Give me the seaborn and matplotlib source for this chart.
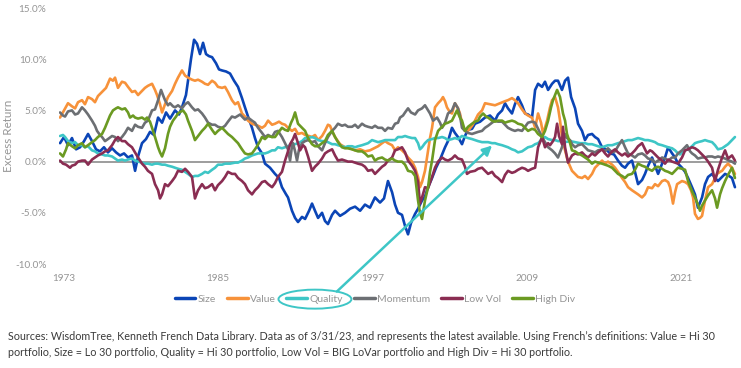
import numpy as np
import pandas as pd
import matplotlib
matplotlib.use("Agg")
import matplotlib.pyplot as plt
from matplotlib.patches import Ellipse
from matplotlib.lines import Line2D
import seaborn as sns

# ---------------- data (excess return, %) ----------------
series_names = ["Size", "Value", "Quality", "Momentum", "Low Vol", "High Div"]
colors = ["#0b45b6", "#f7923a", "#3ec6c6", "#6c6f73", "#8a2d52", "#6b9a22"]

size_x = [1972.69, 1973.00, 1973.31, 1973.62, 1973.94, 1974.25, 1974.56, 1974.87, 1975.18, 1975.49,
          1975.80, 1976.11, 1976.42, 1976.74, 1977.05, 1977.36, 1977.67, 1977.98, 1978.29, 1978.53,
          1978.76, 1979.07, 1979.38, 1979.69, 1980.00, 1980.32, 1980.63, 1980.94, 1981.25, 1981.64,
          1981.95, 1982.18, 1982.49, 1982.65, 1982.88, 1983.12, 1983.35, 1983.58, 1983.82, 1984.05,
          1984.28, 1984.52, 1984.83, 1985.06, 1985.30, 1985.61, 1985.92, 1986.23, 1986.54, 1986.85,
          1987.08, 1987.32, 1987.63, 1987.86, 1988.10, 1988.41, 1988.64, 1989.03, 1989.42, 1989.73,
          1989.96, 1990.28, 1990.43, 1990.74, 1990.98, 1991.21, 1991.52, 1991.76, 1992.07, 1992.30,
          1992.53, 1992.77, 1993.08, 1993.31, 1993.54, 1993.86, 1994.09, 1994.48, 1994.87, 1995.26,
          1995.65, 1996.04, 1996.42, 1996.81, 1997.20, 1997.59, 1997.90, 1998.21, 1998.53, 1998.76,
          1998.99, 1999.30, 1999.54, 1999.77, 2000.00, 2000.32, 2000.55, 2000.86, 2001.09, 2001.33,
          2001.64, 2001.95, 2002.26, 2002.65, 2002.88, 2003.19, 2003.42, 2003.66, 2003.97, 2004.20,
          2004.44, 2004.75, 2004.98, 2005.38, 2005.76, 2006.15, 2006.54, 2006.77, 2007.09, 2007.32,
          2007.55, 2007.86, 2008.09, 2008.33, 2008.64, 2008.88, 2009.11, 2009.42, 2009.66, 2009.89,
          2010.20, 2010.43, 2010.67, 2010.98, 2011.21, 2011.44, 2011.75, 2011.99, 2012.22, 2012.46,
          2012.77, 2013.00, 2013.31, 2013.54, 2013.78, 2014.09, 2014.32, 2014.56, 2014.87, 2015.18,
          2015.49, 2015.80, 2016.11, 2016.42, 2016.66, 2016.89, 2017.20, 2017.43, 2017.67, 2017.98,
          2018.21, 2018.45, 2018.76, 2018.99, 2019.23, 2019.54, 2019.77, 2020.01, 2020.32, 2020.55,
          2020.78, 2021.09, 2021.33, 2021.56, 2021.87, 2022.10, 2022.33, 2022.65, 2022.88, 2023.12,
          2023.43, 2023.66, 2023.89, 2024.21, 2024.44, 2024.75, 2024.98, 2025.21]
size_y = [1.8, 2.4, 1.6, 2.3, 1.2, 1.4, 2.0, 2.7, 2.0, 1.2,
          1.0, 1.4, 0.9, 1.3, 0.9, 0.6, 0.8, 0.4, 0.6, -0.9,
          0.5, 1.8, 2.2, 2.9, 2.6, 4.3, 3.8, 4.8, 4.2, 5.0,
          4.6, 5.3, 6.5, 7.9, 10.0, 11.9, 11.5, 10.5, 11.6, 10.5,
          10.3, 10.2, 9.6, 9.0, 8.9, 8.8, 8.6, 7.9, 7.3, 6.2,
          5.3, 4.4, 3.3, 2.3, 1.4, 0.8, -0.2, -0.6, -1.2, -1.6,
          -2.5, -3.2, -3.5, -4.8, -5.5, -5.9, -5.4, -5.6, -4.8, -4.1,
          -4.8, -5.5, -5.0, -5.8, -6.1, -5.2, -4.8, -5.3, -5.0, -4.6,
          -4.4, -4.8, -4.2, -4.5, -3.5, -4.0, -3.6, -1.9, -3.0, -4.2,
          -5.0, -5.2, -6.3, -7.1, -6.0, -5.1, -4.6, -3.8, -3.4, -2.5,
          -1.6, -0.6, 0.2, 1.4, 2.0, 3.3, 2.8, 2.4, 1.7, 2.5,
          3.1, 3.2, 3.7, 3.9, 4.3, 4.5, 4.0, 4.6, 5.0, 5.7,
          5.2, 4.7, 5.6, 6.3, 5.5, 4.7, 4.6, 4.3, 7.0, 7.6,
          7.3, 7.8, 7.0, 7.6, 7.9, 7.9, 7.0, 7.9, 8.2, 6.3,
          5.2, 3.7, 3.0, 2.1, 2.6, 2.7, 2.4, 2.2, 1.4, 1.2,
          0.8, 0.7, 0.1, -0.4, -0.6, -0.2, 0.1, -1.0, -2.2, -1.8,
          -1.2, -0.4, 0.4, -0.4, -1.2, -0.2, 0.4, 1.4, 0.8, 0.4,
          -0.2, -0.6, -1.0, -1.6, -2.5, -3.2, -4.5, -3.5, -2.2, -1.5,
          -1.2, -1.6, -1.9, -1.5, -1.2, -1.4, -1.6, -2.5]

value_x = [1972.69, 1973.00, 1973.31, 1973.62, 1973.86, 1974.09, 1974.40, 1974.63, 1974.87, 1975.18,
           1975.41, 1975.64, 1975.96, 1976.27, 1976.58, 1976.81, 1976.97, 1977.20, 1977.51, 1977.75,
           1977.98, 1978.29, 1978.53, 1978.76, 1979.07, 1979.30, 1979.53, 1979.85, 1980.08, 1980.24,
           1980.47, 1980.63, 1980.86, 1981.09, 1981.41, 1981.64, 1981.87, 1982.18, 1982.42, 1982.65,
           1982.96, 1983.19, 1983.43, 1983.74, 1983.97, 1984.21, 1984.52, 1984.75, 1984.98, 1985.30,
           1985.53, 1985.76, 1986.07, 1986.31, 1986.54, 1986.85, 1987.08, 1987.32, 1987.63, 1988.10,
           1988.41, 1988.64, 1988.88, 1989.19, 1989.42, 1989.73, 1989.96, 1990.20, 1990.43, 1990.74,
           1990.98, 1991.21, 1991.52, 1991.76, 1992.07, 1992.30, 1992.53, 1992.77, 1993.08, 1993.31,
           1993.54, 1993.70, 1993.93, 1994.09, 1994.48, 1994.87, 1995.26, 1995.65, 1996.04, 1996.42,
           1996.81, 1997.12, 1997.44, 1997.75, 1997.98, 1998.21, 1998.53, 1998.76, 1998.99, 1999.30,
           1999.54, 1999.77, 2000.08, 2000.32, 2000.55, 2000.70, 2000.86, 2001.09, 2001.33, 2001.48,
           2001.64, 2001.87, 2002.11, 2002.34, 2002.49, 2002.65, 2002.80, 2003.04, 2003.19, 2003.42,
           2003.66, 2003.81, 2004.05, 2004.20, 2004.44, 2004.75, 2004.98, 2005.22, 2005.53, 2005.76,
           2006.15, 2006.54, 2006.93, 2007.32, 2007.55, 2007.86, 2008.09, 2008.33, 2008.64, 2008.88,
           2009.11, 2009.42, 2009.66, 2009.89, 2010.12, 2010.28, 2010.59, 2010.82, 2010.98, 2011.21,
           2011.44, 2011.60, 2011.75, 2011.99, 2012.22, 2012.53, 2012.77, 2013.00, 2013.31, 2013.54,
           2013.78, 2014.09, 2014.32, 2014.56, 2014.87, 2015.10, 2015.33, 2015.65, 2015.88, 2016.11,
           2016.42, 2016.66, 2016.89, 2017.20, 2017.43, 2017.67, 2017.98, 2018.21, 2018.45, 2018.76,
           2018.99, 2019.23, 2019.54, 2019.77, 2020.01, 2020.16, 2020.39, 2020.55, 2020.71, 2021.09,
           2021.33, 2021.56, 2021.79, 2021.95, 2022.10, 2022.33, 2022.49, 2022.65, 2022.88, 2023.12,
           2023.43, 2023.66, 2023.82, 2024.05, 2024.21, 2024.44, 2024.67, 2024.98, 2025.21]
value_y = [4.3, 5.0, 5.7, 5.4, 5.2, 5.8, 6.0, 5.6, 6.3, 6.1,
           5.8, 6.4, 6.8, 7.2, 8.1, 7.9, 8.2, 7.2, 7.8, 7.7,
           7.3, 6.8, 6.9, 6.5, 6.9, 7.2, 7.4, 7.6, 7.0, 6.5,
           5.6, 4.8, 5.6, 6.3, 6.9, 7.6, 8.2, 8.9, 8.4, 8.2,
           8.0, 7.9, 8.0, 7.8, 7.6, 7.5, 7.9, 7.7, 7.3, 7.2,
           7.3, 6.8, 6.0, 5.6, 5.8, 4.7, 4.4, 4.0, 3.7, 3.5,
           3.3, 3.5, 4.0, 3.6, 3.7, 3.9, 3.7, 3.6, 3.3, 3.0,
           3.2, 2.7, 2.8, 2.6, 2.5, 2.4, 2.6, 2.1, 2.5, 3.0,
           3.6, 3.5, 2.8, 2.4, 1.7, 1.4, 1.3, 1.1, 1.2, 1.0,
           1.1, 1.3, 1.5, 1.8, 2.0, 1.8, 1.6, 1.1, 1.4, 1.1,
           0.8, 0.4, 0.0, -0.6, -1.5, -2.5, -2.0, -0.9, 1.1, 2.3,
           3.3, 5.3, 5.7, 6.0, 6.3, 5.9, 5.3, 4.8, 4.7, 5.7,
           5.2, 4.7, 3.3, 3.0, 3.0, 3.5, 4.0, 4.6, 5.0, 5.7,
           5.6, 5.5, 5.7, 5.9, 6.0, 6.2, 6.0, 5.7, 5.1, 4.7,
           4.5, 4.3, 3.3, 4.7, 3.8, 2.7, 4.0, 5.3, 6.0, 6.3,
           5.3, 4.0, 2.4, 1.1, 0.0, -0.9, -1.2, -1.5, -1.6, -1.4,
           -1.7, -1.2, -0.6, -0.3, 0.1, -0.2, 0.0, -0.3, -0.6, -1.0,
           -1.6, -2.0, -2.5, -2.8, -3.0, -3.2, -3.5, -3.2, -2.5, -2.6,
           -2.2, -2.4, -1.9, -1.8, -2.0, -2.5, -4.1, -3.0, -2.2, -1.9,
           -2.0, -2.2, -2.8, -3.5, -5.1, -5.6, -5.5, -5.3, -3.8, -2.5,
           -2.2, -1.6, -1.2, -1.0, -0.9, -0.5, -0.2, -0.6, -1.2]

quality_x = [1972.69, 1972.92, 1973.08, 1973.31, 1973.62, 1973.86, 1974.09, 1974.40, 1974.63, 1974.87,
             1975.18, 1975.41, 1975.64, 1975.96, 1976.19, 1976.42, 1976.74, 1976.97, 1977.20, 1977.51,
             1977.75, 1977.98, 1978.29, 1978.53, 1978.76, 1979.07, 1979.30, 1979.53, 1979.85, 1980.08,
             1980.32, 1980.63, 1980.86, 1981.09, 1981.41, 1981.64, 1981.87, 1982.18, 1982.42, 1982.65,
             1982.96, 1983.19, 1983.43, 1983.74, 1983.97, 1984.21, 1984.52, 1984.75, 1984.98, 1985.30,
             1985.53, 1985.92, 1986.31, 1986.54, 1986.85, 1987.08, 1987.32, 1987.63, 1987.86, 1988.10,
             1988.41, 1988.64, 1988.88, 1989.19, 1989.42, 1989.65, 1989.96, 1990.20, 1990.43, 1990.74,
             1990.98, 1991.21, 1991.52, 1991.76, 1991.99, 1992.30, 1992.53, 1992.77, 1993.08, 1993.31,
             1993.54, 1993.86, 1994.09, 1994.32, 1994.63, 1994.87, 1995.10, 1995.41, 1995.65, 1995.88,
             1996.19, 1996.42, 1996.66, 1996.97, 1997.20, 1997.44, 1997.75, 1997.98, 1998.37, 1998.76,
             1998.99, 1999.30, 1999.54, 1999.77, 2000.08, 2000.32, 2000.55, 2000.70, 2000.86, 2001.09,
             2001.33, 2001.64, 2001.87, 2002.11, 2002.42, 2002.65, 2002.88, 2003.19, 2003.42, 2003.66,
             2003.97, 2004.20, 2004.44, 2004.75, 2004.98, 2005.22, 2005.53, 2005.76, 2006.00, 2006.31,
             2006.54, 2006.77, 2007.09, 2007.32, 2007.55, 2007.86, 2008.09, 2008.33, 2008.64, 2008.88,
             2009.11, 2009.42, 2009.66, 2009.89, 2010.20, 2010.43, 2010.67, 2010.98, 2011.21, 2011.44,
             2011.75, 2011.99, 2012.38, 2012.77, 2013.16, 2013.54, 2013.78, 2014.09, 2014.32, 2014.56,
             2014.87, 2015.10, 2015.33, 2015.65, 2015.88, 2016.11, 2016.42, 2016.66, 2016.89, 2017.20,
             2017.43, 2017.67, 2017.98, 2018.21, 2018.45, 2018.76, 2018.99, 2019.23, 2019.54, 2019.77,
             2020.01, 2020.32, 2020.55, 2020.78, 2020.94, 2021.09, 2021.33, 2021.56, 2021.87, 2022.10,
             2022.33, 2022.65, 2022.88, 2023.12, 2023.43, 2023.66, 2023.89, 2024.21, 2024.44, 2024.67,
             2024.98, 2025.21]
quality_y = [2.5, 2.6, 2.4, 2.0, 1.8, 1.9, 1.6, 1.6, 1.4, 1.5,
             1.1, 1.0, 0.8, 0.7, 0.6, 0.6, 0.5, 0.3, 0.1, 0.2,
             0.1, 0.2, 0.3, 0.1, 0.0, -0.1, -0.2, -0.2, -0.3, -0.2,
             -0.2, -0.3, -0.3, -0.4, -0.5, -0.6, -0.7, -0.8, -1.0, -1.2,
             -1.5, -1.4, -1.4, -1.2, -1.0, -1.1, -0.8, -0.6, -0.3, -0.3,
             -0.2, -0.2, -0.1, -0.1, 0.1, 0.3, 0.4, 0.6, 0.7, 0.8,
             0.8, 0.8, 0.9, 1.1, 1.1, 1.4, 1.3, 1.4, 1.5, 1.7,
             1.7, 1.8, 2.0, 2.3, 2.3, 2.4, 2.3, 2.1, 2.0, 2.0,
             1.9, 1.7, 1.7, 1.6, 1.5, 1.4, 1.5, 1.5, 1.4, 1.5,
             1.6, 1.7, 1.8, 2.1, 2.0, 1.9, 2.0, 2.1, 2.1, 2.1,
             2.4, 2.4, 2.5, 2.4, 2.3, 2.3, 1.8, 1.2, 1.4, 1.8,
             2.1, 2.2, 2.3, 2.3, 2.4, 2.3, 2.1, 2.2, 2.3, 2.2,
             2.5, 2.4, 2.3, 2.2, 2.1, 2.0, 1.9, 1.9, 1.9, 1.8,
             1.8, 1.7, 1.6, 1.5, 1.4, 1.2, 1.1, 0.9, 1.0, 1.2,
             1.4, 1.5, 1.7, 1.8, 2.2, 2.4, 2.2, 2.1, 2.1, 2.0,
             2.0, 1.9, 2.0, 1.9, 1.8, 1.8, 1.7, 1.7, 1.6, 1.5,
             1.4, 1.5, 1.6, 1.6, 1.7, 1.8, 1.9, 2.0, 2.1, 2.1,
             2.2, 2.3, 2.2, 2.1, 2.1, 2.0, 1.9, 1.7, 1.6, 1.5,
             1.4, 1.3, 1.1, 0.8, 0.7, 0.9, 1.1, 1.2, 1.5, 1.8,
             1.9, 2.0, 2.1, 2.0, 1.9, 1.6, 1.2, 1.3, 1.5, 1.7,
             2.1, 2.4]

momentum_x = [1972.69, 1972.92, 1973.08, 1973.31, 1973.62, 1973.86, 1974.09, 1974.40, 1974.63, 1974.87,
              1975.18, 1975.41, 1975.57, 1975.80, 1975.96, 1976.19, 1976.42, 1976.74, 1976.97, 1977.20,
              1977.51, 1977.75, 1977.98, 1978.29, 1978.53, 1978.76, 1979.07, 1979.30, 1979.53, 1979.85,
              1980.08, 1980.32, 1980.55, 1980.70, 1980.86, 1981.09, 1981.25, 1981.48, 1981.64, 1981.87,
              1982.18, 1982.42, 1982.65, 1982.96, 1983.19, 1983.43, 1983.74, 1983.97, 1984.21, 1984.52,
              1984.75, 1984.98, 1985.30, 1985.53, 1985.76, 1986.07, 1986.31, 1986.70, 1987.08, 1987.32,
              1987.63, 1987.86, 1988.10, 1988.41, 1988.64, 1988.88, 1989.19, 1989.42, 1989.65, 1989.96,
              1990.20, 1990.43, 1990.59, 1990.74, 1990.82, 1990.98, 1991.13, 1991.29, 1991.52, 1991.76,
              1991.99, 1992.30, 1992.53, 1992.77, 1993.08, 1993.31, 1993.54, 1993.86, 1994.09, 1994.32,
              1994.63, 1994.87, 1995.10, 1995.41, 1995.65, 1995.88, 1996.19, 1996.42, 1996.66, 1996.97,
              1997.20, 1997.44, 1997.75, 1997.98, 1998.21, 1998.53, 1998.76, 1998.99, 1999.15, 1999.38,
              1999.54, 1999.77, 2000.00, 2000.32, 2000.55, 2000.86, 2001.09, 2001.33, 2001.48, 2001.72,
              2002.03, 2002.26, 2002.42, 2002.65, 2002.88, 2003.19, 2003.42, 2003.66, 2003.81, 2003.97,
              2004.20, 2004.44, 2004.75, 2004.98, 2005.22, 2005.53, 2005.76, 2006.00, 2006.31, 2006.54,
              2006.77, 2007.09, 2007.32, 2007.55, 2007.86, 2008.09, 2008.33, 2008.64, 2008.88, 2009.11,
              2009.42, 2009.66, 2009.89, 2010.20, 2010.43, 2010.67, 2010.98, 2011.21, 2011.44, 2011.75,
              2011.99, 2012.14, 2012.38, 2012.53, 2012.77, 2013.00, 2013.31, 2013.54, 2013.78, 2014.09,
              2014.32, 2014.56, 2014.87, 2015.10, 2015.33, 2015.65, 2015.88, 2016.11, 2016.42, 2016.66,
              2016.89, 2017.20, 2017.43, 2017.67, 2017.98, 2018.21, 2018.45, 2018.76, 2018.99, 2019.23,
              2019.54, 2019.77, 2020.01, 2020.32, 2020.55, 2020.78, 2021.09, 2021.33, 2021.48, 2021.72,
              2021.87, 2022.10, 2022.33, 2022.65, 2022.88, 2023.12, 2023.43, 2023.66, 2023.89, 2024.21,
              2024.44, 2024.75, 2024.98, 2025.21]
momentum_y = [4.8, 4.5, 4.4, 4.9, 5.0, 4.6, 4.7, 5.3, 5.0, 4.6,
              4.0, 3.5, 3.0, 2.6, 2.4, 2.0, 2.2, 2.5, 2.4, 2.0,
              2.4, 2.8, 3.3, 3.0, 3.6, 3.4, 3.3, 3.8, 4.0, 5.0,
              5.1, 6.0, 7.0, 6.5, 6.0, 5.5, 5.7, 5.4, 5.3, 5.5,
              5.2, 5.6, 5.8, 5.3, 5.0, 5.1, 4.7, 4.3, 3.8, 3.6,
              3.6, 3.4, 3.3, 3.5, 3.9, 4.4, 4.3, 4.6, 4.1, 4.3,
              4.0, 3.8, 3.3, 2.8, 2.4, 2.6, 2.4, 2.9, 3.0, 2.4,
              1.8, 1.2, 0.1, 1.5, 1.8, 1.0, 0.1, 1.2, 1.8, 2.0,
              2.1, 1.9, 2.0, 1.5, 1.1, 1.8, 2.4, 3.0, 3.3, 3.7,
              3.5, 3.6, 3.4, 3.4, 3.6, 3.3, 3.7, 3.5, 3.4, 3.3,
              3.5, 3.3, 3.3, 3.0, 3.3, 3.2, 3.7, 3.8, 4.3, 4.5,
              4.8, 5.2, 4.8, 4.6, 5.0, 5.2, 5.5, 5.0, 4.7, 4.0,
              4.3, 3.8, 3.3, 3.8, 4.7, 5.0, 5.7, 5.2, 4.5, 3.3,
              3.0, 2.8, 2.7, 2.8, 2.9, 3.0, 3.3, 3.5, 3.8, 4.0,
              3.9, 3.9, 3.6, 3.3, 3.1, 3.0, 3.1, 3.0, 3.4, 3.8,
              3.9, 3.8, 3.2, 2.4, 1.9, 1.4, 1.1, 0.8, 0.4, 1.4,
              2.7, 2.3, 2.1, 1.7, 1.4, 1.6, 1.7, 1.4, 1.1, 1.0,
              0.9, 1.1, 1.2, 1.0, 1.3, 0.9, 1.0, 1.5, 2.1, 1.4,
              0.8, 0.6, 0.4, 0.7, 0.8, 0.6, 0.3, 0.2, -0.1, 0.1,
              0.4, 0.3, 0.1, 0.4, 0.4, 0.8, 1.1, 1.4, 1.6, 1.0,
              0.8, 0.6, 0.3, 0.4, 0.4, 0.5, 0.5, 0.4, 0.5, 0.4,
              0.3, 0.1, 0.0, -0.2]

lowvol_x = [1972.69, 1972.92, 1973.16, 1973.47, 1973.62, 1973.86, 1974.09, 1974.40, 1974.63, 1974.87,
            1975.18, 1975.41, 1975.64, 1975.96, 1976.19, 1976.42, 1976.74, 1976.97, 1977.20, 1977.51,
            1977.75, 1977.98, 1978.29, 1978.53, 1978.76, 1979.07, 1979.30, 1979.53, 1979.85, 1980.08,
            1980.32, 1980.47, 1980.63, 1980.86, 1981.09, 1981.41, 1981.64, 1981.87, 1982.18, 1982.42,
            1982.65, 1982.96, 1983.19, 1983.43, 1983.74, 1983.97, 1984.21, 1984.52, 1984.75, 1984.98,
            1985.30, 1985.53, 1985.76, 1986.07, 1986.31, 1986.54, 1986.85, 1987.08, 1987.32, 1987.63,
            1987.86, 1988.10, 1988.41, 1988.64, 1988.88, 1989.19, 1989.42, 1989.65, 1989.96, 1990.20,
            1990.43, 1990.59, 1990.82, 1990.98, 1991.21, 1991.37, 1991.60, 1991.76, 1991.99, 1992.30,
            1992.53, 1992.77, 1993.08, 1993.31, 1993.54, 1993.86, 1994.09, 1994.32, 1994.63, 1994.87,
            1995.10, 1995.41, 1995.65, 1995.88, 1996.19, 1996.42, 1996.66, 1996.97, 1997.20, 1997.44,
            1997.75, 1997.98, 1998.21, 1998.53, 1998.76, 1998.99, 1999.30, 1999.54, 1999.77, 2000.08,
            2000.32, 2000.55, 2000.70, 2000.86, 2001.09, 2001.33, 2001.64, 2001.87, 2002.11, 2002.42,
            2002.65, 2002.88, 2003.19, 2003.42, 2003.66, 2003.97, 2004.20, 2004.36, 2004.59, 2004.98,
            2005.22, 2005.53, 2005.76, 2006.00, 2006.31, 2006.54, 2006.77, 2007.09, 2007.32, 2007.55,
            2007.86, 2008.09, 2008.33, 2008.64, 2008.88, 2009.11, 2009.42, 2009.66, 2009.89, 2010.20,
            2010.43, 2010.67, 2010.82, 2011.05, 2011.21, 2011.37, 2011.52, 2011.75, 2011.83, 2011.99,
            2012.22, 2012.53, 2012.77, 2013.00, 2013.31, 2013.54, 2013.78, 2014.09, 2014.32, 2014.56,
            2014.87, 2015.10, 2015.33, 2015.65, 2015.88, 2016.11, 2016.42, 2016.66, 2016.89, 2017.20,
            2017.43, 2017.67, 2017.98, 2018.21, 2018.37, 2018.60, 2018.76, 2018.99, 2019.23, 2019.54,
            2019.77, 2020.01, 2020.32, 2020.55, 2020.78, 2021.09, 2021.33, 2021.56, 2021.87, 2022.10,
            2022.33, 2022.65, 2022.88, 2023.12, 2023.43, 2023.66, 2023.89, 2024.21, 2024.44, 2024.67,
            2024.98, 2025.21]
lowvol_y = [0.1, -0.2, -0.3, -0.6, -0.4, -0.3, 0.0, 0.1, 0.1, -0.3,
            0.2, 0.4, 0.6, 0.8, 1.0, 1.1, 1.6, 2.1, 2.4, 2.0,
            2.0, 1.7, 1.4, 0.9, 0.4, -0.2, -0.5, -0.9, -1.2, -2.2,
            -2.8, -3.6, -3.2, -2.2, -2.4, -1.9, -1.5, -0.9, -1.0, -0.7,
            -1.0, -1.5, -3.6, -2.8, -2.2, -2.6, -2.5, -2.2, -2.8, -2.3,
            -1.9, -1.5, -1.0, -1.2, -1.2, -1.6, -1.9, -2.2, -2.8, -3.2,
            -2.8, -2.5, -2.0, -1.9, -2.2, -2.5, -2.1, -1.5, -1.0, 0.1,
            1.0, 1.7, 2.2, 2.7, 1.8, 1.1, 1.6, 1.4, 0.5, -0.9,
            -0.5, -0.2, 0.3, 0.8, 1.0, 1.2, 0.6, 0.1, 0.2, 0.1,
            0.0, 0.0, -0.1, -0.2, -0.3, -0.5, -0.9, -0.8, -1.2, -0.9,
            -0.5, -0.3, 0.1, 0.4, 1.1, 1.2, 1.4, 0.9, 0.1, -0.4,
            -0.9, -2.0, -4.1, -3.5, -2.5, -2.6, -1.5, -0.6, 0.0, 0.4,
            0.2, 0.1, 0.3, 0.6, 0.3, 0.2, -0.5, -1.2, -1.0, -0.9,
            -0.7, -0.6, -0.9, -1.2, -1.0, -1.4, -1.6, -2.0, -1.3, -0.9,
            -1.1, -1.0, -0.8, -0.6, -0.7, -0.9, -0.7, -0.6, 1.4, 2.4,
            1.4, 1.8, 1.6, 2.0, 2.4, 3.7, 2.5, 1.7, 3.4, 1.4,
            -0.1, 0.6, 0.8, 0.7, 0.9, 0.6, 0.4, 0.8, 0.6, 0.9,
            1.2, 0.8, 0.5, 1.0, 1.2, 0.9, 0.6, 0.8, 0.5, 0.8,
            1.1, 1.5, 1.8, 1.2, 0.8, 1.1, 1.0, 0.7, 0.4, 0.1,
            -0.2, 0.2, 0.0, -0.1, -0.2, 0.4, 1.1, 1.2, 1.4, 1.3,
            1.1, 0.7, 0.4, 0.0, -0.6, -1.9, -0.8, 0.4, 1.1, 0.3,
            0.6, 0.1]

highdiv_x = [1972.69, 1972.92, 1973.16, 1973.31, 1973.62, 1973.86, 1974.09, 1974.40, 1974.63, 1974.87,
             1975.18, 1975.41, 1975.64, 1975.96, 1976.19, 1976.42, 1976.58, 1976.81, 1977.05, 1977.20,
             1977.51, 1977.75, 1977.98, 1978.14, 1978.37, 1978.53, 1978.76, 1979.07, 1979.30, 1979.46,
             1979.69, 1979.85, 1980.08, 1980.32, 1980.47, 1980.63, 1980.86, 1981.09, 1981.25, 1981.48,
             1981.72, 1981.87, 1982.11, 1982.26, 1982.49, 1982.65, 1982.96, 1983.19, 1983.43, 1983.74,
             1983.97, 1984.21, 1984.52, 1984.75, 1984.98, 1985.30, 1985.53, 1985.76, 1986.07, 1986.31,
             1986.54, 1986.85, 1987.08, 1987.32, 1987.63, 1987.86, 1988.02, 1988.25, 1988.41, 1988.64,
             1988.88, 1989.19, 1989.42, 1989.65, 1989.96, 1990.20, 1990.43, 1990.67, 1990.82, 1990.98,
             1991.21, 1991.52, 1991.76, 1991.99, 1992.30, 1992.53, 1992.77, 1993.08, 1993.31, 1993.54,
             1993.86, 1994.09, 1994.32, 1994.63, 1994.87, 1995.10, 1995.41, 1995.65, 1995.88, 1996.19,
             1996.42, 1996.66, 1996.97, 1997.20, 1997.44, 1997.75, 1997.98, 1998.21, 1998.53, 1998.76,
             1998.99, 1999.30, 1999.54, 1999.77, 2000.08, 2000.32, 2000.55, 2000.70, 2000.86, 2001.09,
             2001.33, 2001.48, 2001.64, 2001.87, 2002.11, 2002.42, 2002.65, 2002.88, 2003.19, 2003.42,
             2003.58, 2003.81, 2003.97, 2004.20, 2004.44, 2004.75, 2004.98, 2005.22, 2005.38, 2005.61,
             2005.84, 2006.00, 2006.31, 2006.54, 2006.77, 2007.09, 2007.32, 2007.55, 2007.86, 2008.09,
             2008.33, 2008.64, 2008.88, 2009.11, 2009.42, 2009.66, 2009.89, 2010.20, 2010.43, 2010.67,
             2010.90, 2011.05, 2011.21, 2011.37, 2011.60, 2011.83, 2011.99, 2012.14, 2012.38, 2012.53,
             2012.77, 2013.00, 2013.31, 2013.54, 2013.78, 2014.09, 2014.32, 2014.56, 2014.87, 2015.10,
             2015.33, 2015.65, 2015.88, 2016.11, 2016.42, 2016.66, 2016.89, 2017.20, 2017.43, 2017.67,
             2017.98, 2018.21, 2018.45, 2018.76, 2018.99, 2019.23, 2019.54, 2019.77, 2020.01, 2020.32,
             2020.55, 2020.78, 2021.09, 2021.33, 2021.56, 2021.87, 2022.10, 2022.33, 2022.49, 2022.65,
             2022.88, 2023.12, 2023.43, 2023.66, 2023.82, 2024.05, 2024.21, 2024.44, 2024.67, 2024.98,
             2025.21]
highdiv_y = [0.8, 0.5, 1.2, 1.8, 1.5, 1.3, 1.6, 1.8, 1.4, 1.6,
             1.9, 2.1, 2.4, 2.7, 3.3, 4.0, 4.5, 5.0, 5.2, 5.3,
             5.1, 5.2, 4.8, 4.3, 4.5, 4.3, 4.2, 4.3, 4.1, 4.3,
             3.9, 3.3, 2.4, 1.4, 0.9, 0.5, 1.3, 2.7, 3.4, 4.0,
             4.4, 4.7, 4.9, 5.0, 4.6, 4.0, 3.0, 2.1, 2.5, 3.0,
             3.3, 3.7, 3.1, 2.7, 3.0, 3.3, 3.0, 2.7, 2.4, 2.1,
             1.8, 1.2, 0.8, 0.7, 0.8, 1.2, 1.5, 2.0, 2.4, 2.2,
             2.5, 2.4, 2.4, 2.8, 3.3, 3.1, 3.0, 3.8, 4.2, 4.8,
             3.7, 3.3, 3.0, 2.3, 1.7, 1.5, 1.5, 1.8, 2.0, 2.6,
             3.0, 2.4, 1.9, 1.4, 1.3, 1.3, 1.2, 1.1, 1.0, 1.0,
             0.8, 0.5, 0.6, 0.1, 0.3, 0.4, 0.2, 0.1, 0.3, 0.1,
             0.0, 0.0, -0.3, -0.9, -1.0, -1.4, -3.8, -5.0, -5.6, -3.8,
             -2.5, -1.0, 0.1, 2.1, 3.0, 3.4, 3.7, 3.8, 4.0, 4.6,
             5.0, 4.3, 4.0, 3.0, 3.4, 3.7, 3.9, 4.0, 4.4, 4.7,
             4.4, 4.3, 4.0, 3.9, 4.0, 4.0, 3.8, 3.9, 4.0, 3.9,
             3.7, 3.6, 3.3, 3.0, 3.2, 3.1, 2.7, 2.4, 3.0, 4.0,
             5.3, 6.0, 6.5, 7.0, 6.3, 4.7, 4.0, 2.7, 1.8, 1.1,
             1.0, 0.8, 0.6, 0.4, 0.2, -0.2, 0.0, -0.1, -0.2, -0.3,
             -0.4, -0.6, -0.9, -1.2, -1.4, -1.6, -1.3, -1.2, -0.8, -0.2,
             -0.4, -0.5, -0.7, -0.9, -0.6, -0.5, -0.7, -0.9, -1.0, -1.2,
             -0.9, -0.6, -0.7, -0.8, -1.9, -2.9, -3.5, -4.2, -4.8, -4.3,
             -3.8, -3.3, -2.8, -3.6, -4.5, -3.2, -2.6, -1.9, -1.3, -0.6,
             -1.6]

year_ticks = [1973, 1985, 1997, 2009, 2021]
y_ticks = [-10, -5, 0, 5, 10, 15]
source_lines = [
    "Sources: WisdomTree, Kenneth French Data Library. Data as of 3/31/23, and represents the latest available. Using French\u2019s definitions: Value = Hi 30",
    "portfolio, Size = Lo 30 portfolio, Quality = Hi 30 portfolio, Low Vol = BIG LoVar portfolio and High Div = Hi 30 portfolio.",
]

xs = [size_x, value_x, quality_x, momentum_x, lowvol_x, highdiv_x]
ys = [size_y, value_y, quality_y, momentum_y, lowvol_y, highdiv_y]
frames = []
for name, x, y in zip(series_names, xs, ys):
    n = min(len(x), len(y))
    frames.append(pd.DataFrame({"year": x[:n], "ret": y[:n], "series": name}))
df = pd.concat(frames, ignore_index=True)

# ---------------- style ----------------
sns.set_style("white")
plt.rcParams["font.family"] = ["Lato", "DejaVu Sans"]
grey = "#959595"

W, H = 741, 368
fig = plt.figure(figsize=(W / 100, H / 100), dpi=100)
ax = fig.add_axes([59 / W, 1 - 264 / H, (737 - 59) / W, (264 - 8) / H])

ax.axhline(0, color="#8c8c8c", lw=1.2, zorder=1)
sns.lineplot(data=df, x="year", y="ret", hue="series", hue_order=series_names,
             palette=dict(zip(series_names, colors)), estimator=None, sort=False,
             linewidth=1.9, legend=False, ax=ax, zorder=2)

ax.set_xlim(1972.61, 2025.37)
ax.set_ylim(-10, 15)
ax.set_xticks(year_ticks)
ax.set_xticklabels([str(t) for t in year_ticks])
ax.set_yticks(y_ticks)
ax.set_yticklabels([f"{v:.1f}%" for v in y_ticks])
ax.tick_params(axis="both", length=0, labelsize=7.2, labelcolor=grey)
ax.tick_params(axis="y", pad=9)
ax.tick_params(axis="x", pad=7)
ax.set_xlabel("")
ax.set_ylabel("Excess Return", fontsize=8.4, color=grey, labelpad=1)
for s in ax.spines.values():
    s.set_visible(False)

# legend
handles = [Line2D([0], [0], color=c, lw=2.5) for c in colors]
leg = fig.legend(handles, series_names, ncol=6, loc="center",
                 bbox_to_anchor=(375 / W, 1 - 299 / H), frameon=False,
                 fontsize=7.5, handlelength=2.0, handletextpad=0.25,
                 columnspacing=1.0, labelcolor=grey)

# source note
fig.text(8 / W, 1 - 337 / H, source_lines[0], fontsize=7.75, color="#3a3a3a", va="center")
fig.text(8 / W, 1 - 352 / H, source_lines[1], fontsize=7.75, color="#3a3a3a", va="center")

# ellipse around "Quality" and arrow
fig.canvas.draw()
r = fig.canvas.get_renderer()
tb = leg.get_texts()[2].get_window_extent(r)
hb = leg.legend_handles[2].get_window_extent(r)
x0, x1 = min(tb.x0, hb.x0), max(tb.x1, hb.x1)
cy = (tb.y0 + tb.y1) / 2
cx = (x0 + x1) / 2
ew = (x1 - x0) + 16
eh = 19
ell = Ellipse((cx / W, cy / H), ew / W, eh / H, transform=fig.transFigure,
              fill=False, edgecolor="#3ec6c6", lw=1.4)
fig.patches.append(ell)
sx = cx + 0.6 * ew / 2
sy = cy + 0.8 * eh / 2
ax.annotate("", xy=(2006.31, 1.57), xycoords="data", xytext=(sx, sy),
            textcoords="figure pixels",
            arrowprops=dict(arrowstyle="-|>", color="#3ec6c6", lw=1.8,
                            mutation_scale=14, shrinkA=0, shrinkB=0),
            annotation_clip=False, zorder=5)

fig.savefig("out.png", dpi=100)
